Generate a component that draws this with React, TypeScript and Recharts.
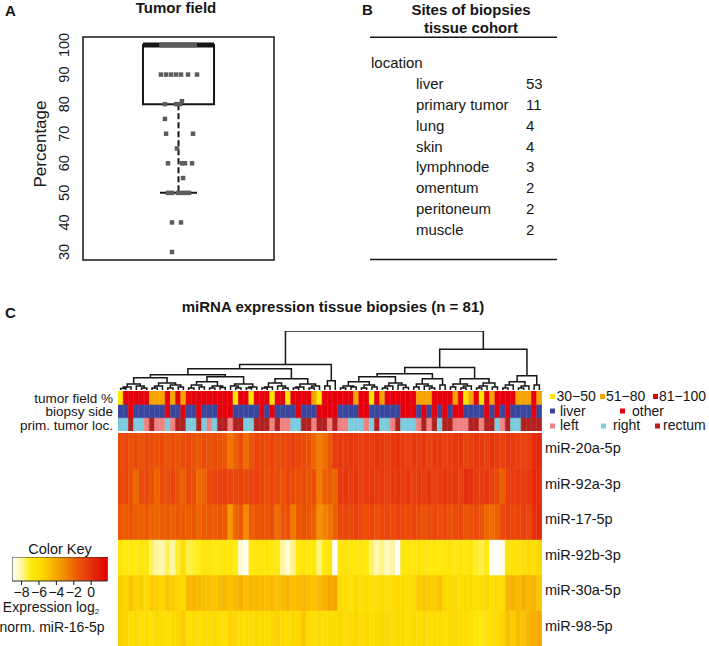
import {
  Bar,
  BarChart,
  Cell,
  Line,
  LineChart,
  ReferenceArea,
  ReferenceLine,
  Scatter,
  ScatterChart,
  XAxis,
  YAxis,
} from 'recharts'

const FONT = '"Liberation Sans", Arial, Helvetica, sans-serif'
const INK = '#161616'

// ---------- A: tumor field (%) per biopsy, with the strip-chart jitter
const TUMOR_PCT = [
  100, 100, 100, 100, 100, 100, 100, 100, 100, 100, 100, 100, 100, 100, 100, 100,
  90, 90, 90, 90, 90, 90, 90, 81, 80, 80, 80, 75, 70, 70, 65, 60, 60, 60, 60, 55,
  50, 50, 50, 50, 50, 50, 40, 40, 30,
]
const TUMOR_JITTER = [
  0.41, 0.421, 0.433, 0.447, 0.455, 0.468, 0.479, 0.491, 0.502, 0.514, 0.526, 0.537, 0.549, 0.56, 0.572, 0.585,
  0.408, 0.435, 0.461, 0.487, 0.513, 0.55, 0.597, 0.518, 0.429, 0.487, 0.508, 0.429, 0.435, 0.576, 0.492,
  0.445, 0.518, 0.534, 0.571, 0.524, 0.445, 0.466, 0.497, 0.518, 0.539, 0.555, 0.466, 0.513, 0.466,
]
const [WHISKER_LO, Q1, MEDIAN, Q3] = [50, 80, 100, 100]
const PCT_TICKS = [30, 40, 50, 60, 70, 80, 90, 100]

// ---------- B: sites of biopsies
const SITES = ['liver', 'primary tumor', 'lung', 'skin', 'lymphnode', 'omentum', 'peritoneum', 'muscle']
const SITE_COUNTS = [53, 11, 4, 4, 3, 2, 2, 2]

// ---------- C: heatmap (81 biopsies, dendrogram order)
const MIRNAS = ['miR-20a-5p', 'miR-92a-3p', 'miR-17-5p', 'miR-92b-3p', 'miR-30a-5p', 'miR-98-5p']
const TF_LABELS = ['30−50', '51−80', '81−100']
const SIDE_LABELS = ['liver', 'other']
const LOC_LABELS = ['left', 'right', 'rectum']

// 0 = 30-50, 1 = 51-80, 2 = 81-100
const TUMOR_FIELD = [
  0, 2, 2, 2, 2, 2, 1, 1, 1, 2, 1, 2, 1, 2, 2, 2, 2, 2, 2, 2,
  2, 2, 0, 2, 2, 0, 2, 2, 2, 0, 2, 2, 0, 2, 2, 2, 2, 1, 0, 2,
  2, 2, 2, 2, 2, 1, 2, 2, 0, 2, 1, 2, 2, 2, 2, 2, 2, 1, 1, 1,
  2, 2, 2, 2, 1, 2, 0, 1, 2, 0, 2, 1, 2, 2, 2, 2, 1, 1, 1, 2,
  1,
]
// 0 = liver, 1 = other
const BIOPSY_SIDE = [
  0, 0, 1, 0, 0, 0, 0, 0, 0, 1, 0, 0, 1, 0, 0, 1, 0, 0, 0, 1,
  1, 1, 0, 0, 0, 0, 0, 1, 0, 1, 0, 0, 0, 0, 1, 0, 0, 0, 1, 1,
  1, 1, 0, 0, 0, 0, 1, 1, 0, 0, 0, 0, 0, 0, 1, 1, 1, 0, 1, 0,
  1, 0, 1, 0, 1, 1, 0, 0, 0, 0, 1, 0, 1, 0, 1, 0, 0, 0, 0, 1,
  0,
]
// 0 = left, 1 = right, 2 = rectum
const PRIM_LOC = [
  1, 1, 2, 1, 1, 0, 2, 0, 0, 1, 0, 2, 2, 1, 1, 2, 1, 0, 1, 2,
  2, 0, 2, 2, 1, 1, 2, 2, 2, 0, 2, 0, 0, 1, 1, 2, 2, 0, 2, 2,
  0, 2, 0, 0, 1, 1, 1, 0, 1, 2, 1, 1, 0, 2, 1, 1, 1, 0, 2, 0,
  2, 1, 2, 2, 0, 0, 0, 2, 2, 0, 2, 2, 1, 0, 2, 1, 1, 2, 2, 2,
  2,
]

// log2 expression normalised to miR-16-5p
const EXPR_MIR20A = [
  -1.0, -0.8, -1.2, -1.0, -1.3, -0.9, -1.1, -1.2, -1.0, -1.4, -1.1, -1.3, -1.0, -0.9, -1.2, -1.5, -1.1, -1.3, -1.0, -1.2, -1.4, -2.4, -1.8, -1.0, -2.2, -1.3, -0.8,
  -0.9, -1.0, -0.7, -1.1, -0.9, -0.8, -0.6, -0.9, -1.0, -1.2, -2.0, -2.6, -2.2, -1.5, -0.4, -0.3, -0.5, -0.2, -0.4, -0.6, -0.3, -0.5, -0.2, -0.4, -0.6, -0.3, -0.1,
  -0.4, -0.6, -0.3, -0.5, -0.2, -0.7, -0.4, -0.3, -0.6, -0.5, -0.3, -0.2, -0.8, -0.5, -0.3, -0.4, -0.6, -0.2, -0.5, -0.7, -0.3, -0.4, -0.6, -0.8, -0.5, 0.2, 0.4,
]
const EXPR_MIR92A = [
  -1.0, -0.9, -1.3, -2.0, -1.1, -0.9, -1.2, -1.9, -1.0, -1.2, -0.8, -1.3, -1.8, -1.0, -1.1, -2.1, -1.9, -1.0, -0.8, -0.7, -0.6, -0.8, -0.9, -0.7, -1.0, -0.8, -0.6,
  -0.8, -1.2, -0.9, -1.1, -1.4, -0.8, -1.0, -1.3, -1.0, -1.5, -1.2, -2.6, -1.8, -1.6, -2.0, -0.4, -0.3, -0.5, -0.2, -0.6, -0.4, -0.3, -0.5, -0.3, -0.7, -0.4, -0.2,
  -0.4, -0.3, -0.6, -0.4, -0.5, -0.3, -0.6, -0.4, -0.2, -0.5, -0.3, -0.6, 0.2, 0.0, -0.4, -0.5, -0.3, -0.7, -1.0, -1.8, -0.6, -0.4, -0.3, -0.5, -0.2, 0.3, 0.1,
]
const EXPR_MIR17 = [
  -1.5, -1.6, -1.4, -1.7, -1.8, -1.5, -1.9, -2.0, -1.7, -1.6, -1.8, -1.5, -1.6, -1.7, -1.4, -1.9, -1.6, -1.5, -1.7, -1.4, -1.6, -3.5, -2.0, -1.5, -3.0, -1.8, -1.4,
  -1.3, -1.5, -1.2, -2.3, -1.4, -1.3, -2.5, -1.6, -1.2, -1.4, -1.8, -3.2, -2.8, -2.4, -1.8, -0.9, -0.8, -1.0, -0.7, -0.9, -1.1, -0.8, -1.2, -0.9, -0.8, -1.0, -0.7,
  -0.9, -1.1, -0.8, -1.0, -1.3, -1.0, -0.8, -1.1, -0.9, -1.2, -1.0, -0.9, -1.4, -1.2, -1.0, -1.3, -2.0, -2.2, -1.8, -1.0, -0.7, -0.9, -0.8, -0.6, -0.9, 0.0, 0.3,
]
const EXPR_MIR92B = [
  -6.6, -6.8, -6.7, -6.9, -6.5, -6.6, -7.6, -8.0, -8.2, -7.5, -8.0, -7.2, -6.0, -7.4, -7.2, -7.0, -6.6, -6.5, -6.8, -6.7, -6.5, -6.6, -7.0, -8.6, -9.0, -6.8, -6.5,
  -6.5, -6.6, -6.8, -6.7, -8.0, -8.6, -7.8, -6.8, -6.5, -6.7, -6.6, -7.8, -6.8, -6.5, -9.1, -6.6, -6.4, -6.5, -6.7, -6.6, -6.8, -7.6, -8.2, -7.8, -8.4, -8.0, -9.1,
  -6.6, -6.5, -6.7, -6.4, -6.6, -6.8, -6.5, -6.7, -6.6, -6.4, -6.8, -6.6, -6.7, -6.5, -7.2, -7.4, -6.8, -9.0, -9.1, -8.8, -6.4, -6.2, -6.3, -6.0, -5.8, -6.1, -5.6,
]
const EXPR_MIR30A = [
  -5.2, -5.5, -5.0, -5.4, -5.3, -5.8, -5.1, -5.3, -5.5, -5.0, -5.2, -5.4, -5.7, -4.5, -4.4, -4.6, -4.8, -4.9, -5.0, -4.7, -4.5, -4.9, -4.6, -4.3, -4.8, -4.5, -4.6,
  -4.6, -4.8, -4.5, -4.9, -4.7, -4.4, -4.8, -4.6, -4.5, -4.7, -4.9, -4.6, -4.3, -4.0, -3.9, -5.8, -6.0, -6.2, -5.7, -6.1, -5.9, -6.2, -6.0, -5.8, -6.1, -5.9, -5.7,
  -5.9, -6.0, -5.8, -5.1, -5.0, -5.2, -5.3, -4.9, -5.6, -5.8, -5.9, -6.0, -5.7, -5.8, -6.1, -5.9, -5.7, -6.0, -5.8, -5.9, -4.4, -4.3, -4.6, -4.2, -4.5, -4.4, -5.0,
]
const EXPR_MIR98 = [
  -5.3, -5.5, -6.0, -5.8, -6.1, -5.9, -6.2, -5.7, -5.9, -6.0, -5.8, -5.6, -5.2, -6.0, -5.9, -6.1, -5.8, -5.9, -5.7, -6.0, -6.1, -5.4, -5.6, -5.9, -5.8, -6.0, -5.7,
  -5.6, -5.9, -5.7, -5.4, -5.8, -5.9, -5.5, -5.7, -5.0, -5.8, -6.0, -5.9, -6.1, -5.9, -5.8, -5.6, -6.0, -5.7, -5.5, -5.9, -5.6, -6.0, -5.8, -5.5, -5.7, -5.9, -5.6,
  -5.8, -6.0, -5.7, -5.9, -5.6, -6.0, -5.8, -5.9, -6.1, -5.7, -5.8, -5.9, -6.0, -6.2, -6.6, -6.8, -6.4, -6.0, -5.8, -5.4, -4.8, -5.2, -4.6, -4.9, -4.4, -4.2, -4.0,
]
const EXPR = [EXPR_MIR20A, EXPR_MIR92A, EXPR_MIR17, EXPR_MIR92B, EXPR_MIR30A, EXPR_MIR98]

// column dendrogram: [height, left, right], leaves are column indices
type Node = number | [number, Node, Node]
const DENDRO: Node = [58,
  [25,
    [21,
      [15,
        [12,
          [6, [3, [1.5, 0, 1], 2], [4, 3, [2, 4, 5]]],
          [7, [4, [2, 6, 7], 8], [5, [2, 9, 10], [3, 11, 12]]]],
        [13,
          [8, [5, [2, 13, 14], [3, 15, 16]], [4, [2, 17, 18], [2.5, 19, 20]]],
          [6, [4, 21, [2, 22, 23]], [3, [2, 24, 25], 26]]]],
      [11,
        [7, [3, [2, 27, 28], 29], [4, 30, [2, 31, 32]]],
        [6, [3, [2, 33, 34], 35], [4, [2, 36, 37], 38]]]],
    [9, [4, 39, 40], 41]],
  [40,
    [22,
      [16,
        [13,
          [8, [4, [2, 42, 43], [3, 44, 45]], [5, [2, 46, 47], [3, 48, 49]]],
          [7, [4, [2, 50, 51], 52], [5, 53, [2.5, 54, 55]]]],
        [11, [6, [3, 56, 57], [4, 58, [2, 59, 60]]], [5, 61, 62]]],
      [11,
        [6, [3, 63, 64], [4, [2, 65, 66], 67]],
        [7, [4, [2, 68, 69], 70], [3, 71, 72]]]],
    [14,
      [8, [5, [2, 73, 74], 75], [4, [2, 76, 77], 78]],
      [5, 79, 80]]]]

const KEY_TICKS = [-8, -6, -4, -2, 0]
const KEY_MIN = -9.1
const KEY_MAX = 1.9

// ---------- colours
const TF_COLORS = ['#FFE600', '#F7A300', '#E6000B']
const SIDE_COLORS = ['#3A479C', '#E6000B']
const LOC_COLORS = ['#F08282', '#7CCCE0', '#B0211F']
const HEAT_STOPS: [number, string][] = [
  [-9.1, '#FFFFFF'],
  [-8.0, '#FFF6A0'],
  [-7.0, '#FFEC10'],
  [-5.6, '#FDD800'],
  [-4.4, '#F8B400'],
  [-3.0, '#F38A00'],
  [-1.8, '#EC6000'],
  [-0.6, '#E8400E'],
  [0.6, '#E52008'],
  [1.9, '#E20000'],
]

function hexToRgb(h: string) {
  return [1, 3, 5].map((i) => parseInt(h.slice(i, i + 2), 16))
}

function heat(v: number) {
  const s = HEAT_STOPS
  if (v <= s[0][0]) return s[0][1]
  for (let i = 1; i < s.length; i++) {
    if (v <= s[i][0]) {
      const t = (v - s[i - 1][0]) / (s[i][0] - s[i - 1][0])
      const a = hexToRgb(s[i - 1][1])
      const b = hexToRgb(s[i][1])
      const c = a.map((x, k) => Math.round(x + (b[k] - x) * t))
      return `rgb(${c[0]},${c[1]},${c[2]})`
    }
  }
  return s[s.length - 1][1]
}

function dendroSegments(node: Node, out: { x: number; y: number | null }[]): { x: number; h: number } {
  if (typeof node === 'number') return { x: node, h: 0 }
  const [h, a, b] = node
  const l = dendroSegments(a, out)
  const r = dendroSegments(b, out)
  out.push({ x: l.x, y: l.h }, { x: l.x, y: h }, { x: r.x, y: h }, { x: r.x, y: r.h }, { x: r.x, y: null })
  return { x: (l.x + r.x) / 2, h }
}

function PctTick(props: any) {
  const { y, payload } = props
  return (
    <text x={69.2} y={y} transform={`rotate(-90 69.2 ${y})`} textAnchor="middle" fontSize={14.5} fill={INK}>
      {payload.value}
    </text>
  )
}

function SquareDot(props: any) {
  return <rect x={props.cx - 2.25} y={props.cy - 2.25} width={4.5} height={4.5} fill="#5c5c5c" />
}

const abs = (left: number, top: number) => ({ position: 'absolute' as const, left, top })

export default function App() {
  const tfPoints = TUMOR_PCT.map((y, i) => ({ x: TUMOR_JITTER[i], y }))

  const dendroPts: { x: number; y: number | null }[] = []
  dendroSegments(DENDRO, dendroPts)

  const annoRows = TUMOR_FIELD.map((_, i) => ({ col: i, loc: 1, side: 1, tf: 1 }))
  const heatRows = TUMOR_FIELD.map((_, i) => {
    const row: Record<string, number> = { col: i }
    MIRNAS.forEach((_, j) => (row[`m${j}`] = 1))
    return row
  })
  const keyRow = [{ k: 'key', range: [KEY_MIN, KEY_MAX] }]

  const rowH = 213 / MIRNAS.length

  return (
    <div style={{ ...abs(0, 0), width: 709, height: 646, background: '#fff', fontFamily: FONT }}>
      <svg width={709} height={646} style={abs(0, 0)} fontFamily={FONT} fill={INK}>
        <defs>
          <linearGradient id="keyGrad" x1="0" y1="0" x2="1" y2="0">
            {HEAT_STOPS.map(([v, c]) => (
              <stop key={v} offset={(v - KEY_MIN) / (KEY_MAX - KEY_MIN)} stopColor={c} />
            ))}
          </linearGradient>
        </defs>
        {/* A */}
        <text x={5} y={15.5} fontSize={15} fontWeight="bold">A</text>
        <text x={176} y={13.3} fontSize={15} fontWeight="bold" textAnchor="middle">Tumor field</text>
        <text x={46} y={144} fontSize={17} textAnchor="middle" transform="rotate(-90 46 144)">Percentage</text>

        {/* B */}
        <text x={362} y={15} fontSize={15} fontWeight="bold">B</text>
        <text x={471} y={15} fontSize={15} fontWeight="bold" textAnchor="middle">Sites of biopsies</text>
        <text x={471} y={33} fontSize={15} fontWeight="bold" textAnchor="middle">tissue cohort</text>
        <line x1={370} x2={557} y1={37.3} y2={37.3} stroke={INK} strokeWidth={1.5} />
        <text x={371} y={68.3} fontSize={15}>location</text>
        {SITES.map((s, i) => (
          <g key={s}>
            <text x={416} y={89.1 + 20.8 * i} fontSize={15}>{s}</text>
            <text x={526} y={89.1 + 20.8 * i} fontSize={15}>{SITE_COUNTS[i]}</text>
          </g>
        ))}
        <line x1={370} x2={557} y1={259.5} y2={259.5} stroke={INK} strokeWidth={1.5} />

        {/* C */}
        <text x={5} y={318.3} fontSize={15} fontWeight="bold">C</text>
        <text x={333} y={311.7} fontSize={15} fontWeight="bold" textAnchor="middle">
          miRNA expression tissue biopsies (n = 81)
        </text>
        <text x={113} y={402.5} fontSize={13.5} textAnchor="end">tumor field %</text>
        <text x={113} y={416.1} fontSize={13.5} textAnchor="end">biopsy side</text>
        <text x={113} y={429.7} fontSize={13.5} textAnchor="end">prim. tumor loc.</text>

        {/* annotation legend */}
        {TF_LABELS.map((t, i) => (
          <g key={t}>
            <rect x={[550, 600, 653][i]} y={394} width={5} height={5} fill={TF_COLORS[i]} />
            <text x={[556.5, 606, 659][i]} y={401} fontSize={14}>{t}</text>
          </g>
        ))}
        {SIDE_LABELS.map((t, i) => (
          <g key={t}>
            <rect x={[550, 620][i]} y={408.5} width={5} height={5} fill={SIDE_COLORS[i]} />
            <text x={[560, 632][i]} y={415.5} fontSize={14}>{t}</text>
          </g>
        ))}
        {LOC_LABELS.map((t, i) => (
          <g key={t}>
            <rect x={[550, 601, 655][i]} y={423.5} width={5} height={5} fill={LOC_COLORS[i]} />
            <text x={[560, 613, 663][i]} y={430} fontSize={14}>{t}</text>
          </g>
        ))}

        {MIRNAS.map((m, i) => (
          <text key={m} x={545} y={433 + rowH * (i + 0.5) + 2.5} fontSize={14.5}>{m}</text>
        ))}

        {/* colour key captions */}
        <text x={60} y={554.3} fontSize={14.5} textAnchor="middle">Color Key</text>
        <text x={51} y={611.7} fontSize={14} textAnchor="middle">
          Expression log<tspan fontSize={8} dy={2}>2</tspan>
        </text>
        <text x={52} y={631.7} fontSize={14} textAnchor="middle">norm. miR-16-5p</text>
      </svg>

      {/* A: box plot with strip chart */}
      <div style={abs(0, 0)}>
        <ScatterChart width={280} height={270} margin={{ top: 37, right: 6, bottom: 10, left: 0 }}>
          <XAxis type="number" dataKey="x" domain={[0, 1]} hide allowDataOverflow />
          <YAxis
            type="number"
            dataKey="y"
            domain={[27.3, 102.7]}
            ticks={PCT_TICKS}
            interval={0}
            width={83}
            axisLine={false}
            tickLine={false}
            tick={PctTick}
            allowDataOverflow
          />
          <ReferenceArea x1={0} x2={1} y1={27.3} y2={102.7} fill="none" stroke={INK} strokeWidth={1.5} />
          <ReferenceArea x1={0.314} x2={0.686} y1={Q1} y2={Q3} fill="none" stroke={INK} strokeWidth={2} />
          <ReferenceLine
            segment={[{ x: 0.5, y: Q1 }, { x: 0.5, y: WHISKER_LO }]}
            stroke={INK}
            strokeWidth={2}
            strokeDasharray="6 3"
          />
          <ReferenceLine segment={[{ x: 0.403, y: WHISKER_LO }, { x: 0.597, y: WHISKER_LO }]} stroke={INK} strokeWidth={2} />
          <ReferenceLine segment={[{ x: 0.314, y: MEDIAN }, { x: 0.686, y: MEDIAN }]} stroke={INK} strokeWidth={5} />
          <Scatter data={tfPoints} shape={SquareDot} isAnimationActive={false} />
        </ScatterChart>
      </div>

      {/* C: dendrogram */}
      <div style={abs(118, 329)}>
        <LineChart width={424} height={63} data={dendroPts} margin={{ top: 2, right: 0, bottom: 2, left: 0 }}>
          <XAxis type="number" dataKey="x" domain={[-0.5, 80.5]} hide allowDataOverflow />
          <YAxis type="number" domain={[0, 58]} hide allowDataOverflow />
          <Line
            dataKey="y"
            stroke={INK}
            strokeWidth={1.5}
            dot={false}
            connectNulls={false}
            isAnimationActive={false}
          />
        </LineChart>
      </div>

      {/* C: annotation rows */}
      <div style={abs(118, 391)}>
        <BarChart width={424} height={40} data={annoRows} margin={{ top: 0, right: 0, bottom: 0, left: 0 }} barCategoryGap={0} barGap={0}>
          <XAxis dataKey="col" hide />
          <YAxis hide domain={[0, 3]} />
          <Bar dataKey="loc" stackId="a" isAnimationActive={false}>
            {PRIM_LOC.map((v, i) => (
              <Cell key={i} fill={LOC_COLORS[v]} stroke={LOC_COLORS[v]} strokeWidth={0.6} />
            ))}
          </Bar>
          <Bar dataKey="side" stackId="a" isAnimationActive={false}>
            {BIOPSY_SIDE.map((v, i) => (
              <Cell key={i} fill={SIDE_COLORS[v]} stroke={SIDE_COLORS[v]} strokeWidth={0.6} />
            ))}
          </Bar>
          <Bar dataKey="tf" stackId="a" isAnimationActive={false}>
            {TUMOR_FIELD.map((v, i) => (
              <Cell key={i} fill={TF_COLORS[v]} stroke={TF_COLORS[v]} strokeWidth={0.6} />
            ))}
          </Bar>
        </BarChart>
      </div>

      {/* C: expression heatmap */}
      <div style={abs(118, 433)}>
        <BarChart width={424} height={213} data={heatRows} margin={{ top: 0, right: 0, bottom: 0, left: 0 }} barCategoryGap={0} barGap={0}>
          <XAxis dataKey="col" hide />
          <YAxis hide domain={[0, MIRNAS.length]} />
          {MIRNAS.map((_, k) => {
            const j = MIRNAS.length - 1 - k
            return (
              <Bar key={j} dataKey={`m${j}`} stackId="h" isAnimationActive={false}>
                {EXPR[j].map((v, i) => (
                  <Cell key={i} fill={heat(v)} stroke={heat(v)} strokeWidth={0.6} />
                ))}
              </Bar>
            )
          })}
        </BarChart>
      </div>

      {/* C: colour key */}
      <div style={abs(0, 557)}>
        <BarChart
          width={120}
          height={50}
          layout="vertical"
          data={keyRow}
          margin={{ top: 0, right: 12.3, bottom: 0, left: 12 }}
          barCategoryGap={0}
        >
          <XAxis
            type="number"
            domain={[KEY_MIN, KEY_MAX]}
            ticks={KEY_TICKS}
            interval={0}
            tickSize={4}
            axisLine={false}
            tickLine={{ stroke: INK }}
            tick={{ fontSize: 14, fill: INK }}
            tickFormatter={(v: number) => String(v).replace('-', '−')}
            height={26}
            allowDataOverflow
          />
          <YAxis type="category" dataKey="k" hide />
          <Bar dataKey="range" fill="url(#keyGrad)" stroke="#333" strokeWidth={1} isAnimationActive={false} />
        </BarChart>
      </div>
    </div>
  )
}
